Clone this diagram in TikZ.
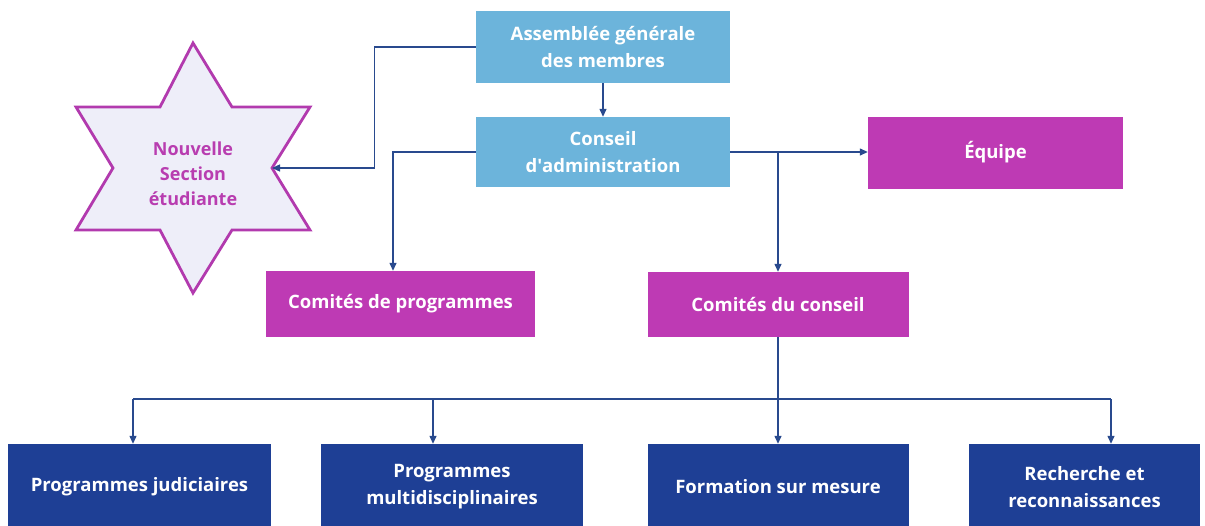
\documentclass[tikz,border=0pt]{standalone}
\usepackage{fontspec}
\setmainfont{Open Sans}
\usetikzlibrary{arrows.meta}
\definecolor{lblue}{HTML}{6CB4DB}
\definecolor{magen}{HTML}{BE3AB4}
\definecolor{dblue}{HTML}{1E3F95}
\definecolor{starfill}{HTML}{EEEEF9}
\definecolor{starline}{HTML}{B23AAE}
\definecolor{startext}{HTML}{B83DB0}
\definecolor{linec}{HTML}{294A8E}
\tikzset{
  boxbase/.style={rectangle, inner sep=0pt, text=white, align=center,
    font=\fontsize{18.5}{27}\selectfont\bfseries},
  bluebox/.style={boxbase, fill=lblue},
  magbox/.style={boxbase, fill=magen},
  darkbox/.style={boxbase, fill=dblue},
  conn/.style={draw=linec, line width=1.3pt},
  arr/.style={conn, -{Triangle[length=8pt,width=7pt]}},
}
\begin{document}
\begin{tikzpicture}[x=1pt,y=-1pt]
\useasboundingbox (0,0) rectangle (1205,525);
% star
\draw[fill=starfill, draw=starline, line width=2.8pt, line join=miter]
  (193,43) -- (232,107) -- (310,107) -- (272,168) -- (310,230) -- (232,230)
  -- (193,293) -- (160,230) -- (76,230) -- (113,168) -- (76,107) -- (160,107) -- cycle;
\coordinate (starR) at (272,168);
\node[text=startext, align=center, font=\fontsize{18}{25}\selectfont\bfseries] (star) at (193,174)
  {Nouvelle\\Section\\étudiante};
% boxes
\node[bluebox, minimum width=254pt, minimum height=72pt] (ag) at (603,47) {Assemblée générale\\des membres};
\node[bluebox, minimum width=254pt, minimum height=70pt] (ca) at (603,152) {Conseil\\d\textquotesingle administration};
\node[magbox, minimum width=255pt, minimum height=72pt] (eq) at (995.5,152.5) {Équipe};
\node[magbox, minimum width=269pt, minimum height=66pt] (cp) at (400.5,304) {Comités de programmes};
\node[magbox, minimum width=261pt, minimum height=65pt] (cc) at (778,304.5) {Comités du conseil};
\node[darkbox, minimum width=263pt, minimum height=86pt] (pj) at (139.5,487) {Programmes judiciaires};
\node[darkbox, minimum width=262pt, minimum height=86pt] (pm) at (452,487) {Programmes\\multidisciplinaires};
\node[darkbox, minimum width=261pt, minimum height=86pt] (fm) at (778,487) {Formation sur mesure};
\node[darkbox, minimum width=231pt, minimum height=86pt] (rr) at (1084.5,487) {Recherche et\\reconnaissances};
% connectors
\draw[arr] (ag.west) -- ++(-101,0) |- (starR);
\draw[arr] (ag.south) -- (ca.north);
\draw[arr] (ca.west) -| ([xshift=-7.5pt]cp.north);
\draw[arr] (ca.east) -- (ca.east -| eq.west);
\coordinate (br) at (778,152);
\draw[arr] (br) -- (cc.north);
\draw[arr] (cc.south) -- (fm.north);
\coordinate (hl) at (133,399);
\coordinate (hm) at (433,399);
\coordinate (hr) at (1111,399);
\draw[conn] (hl) -- (hr);
\draw[arr] (hl) -- (hl |- pj.north);
\draw[arr] (hm) -- (hm |- pm.north);
\draw[arr] (hr) -- (hr |- rr.north);
\end{tikzpicture}
\end{document}
